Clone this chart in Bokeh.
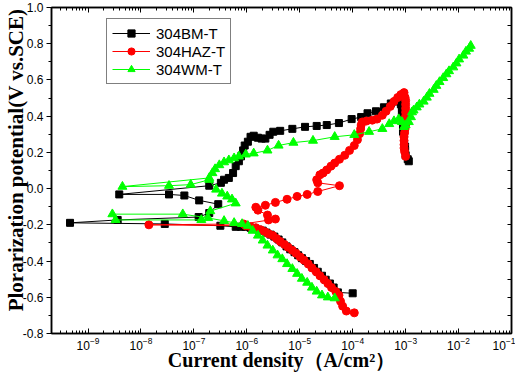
import numpy as np
from bokeh.plotting import figure
from bokeh.models import (Range1d, LinearAxis, LogAxis, FixedTicker, LogTicker,
                          PrintfTickFormatter, Legend, LegendItem)
from bokeh.embed import file_html
from bokeh.resources import INLINE

# ---- data (log10 of current density in A/cm^2, potential in V vs SCE) ----
series_names = ["304BM-T", "304HAZ-T", "304WM-T"]

bm_logi = [-4.00, -4.28, -4.36, -4.43, -4.51, -4.58, -4.66, -4.73, -4.81, -4.88,
           -4.96, -5.03, -5.10, -5.18, -5.25, -5.33, -5.40, -5.48, -5.55, -5.63,
           -5.70, -5.78, -5.85, -5.93, -6.02, -6.11, -6.21, -6.50, -7.55, -9.34,
           -8.44, -6.91, -6.71, -6.54, -6.90, -7.18, -7.47, -8.41, -6.71, -6.49,
           -6.43, -6.34, -6.26, -6.21, -6.15, -6.11, -6.07, -6.04, -5.98, -5.93,
           -5.87, -5.79, -5.72, -5.65, -5.57, -5.50, -5.37, -5.14, -4.90, -4.68,
           -4.49, -4.26, -4.02, -3.84, -3.72, -3.56, -3.41, -3.28, -3.18, -3.13,
           -3.09, -3.07, -3.07, -3.07, -3.05, -3.05, -3.05, -3.05, -3.03, -3.03,
           -3.03, -3.01, -3.01, -3.00, -2.96, -2.94]
bm_e = [-0.578, -0.573, -0.546, -0.524, -0.503, -0.481, -0.459, -0.438, -0.416, -0.400,
        -0.384, -0.368, -0.351, -0.335, -0.319, -0.297, -0.281, -0.265, -0.254, -0.243,
        -0.232, -0.227, -0.222, -0.216, -0.211, -0.211, -0.211, -0.205, -0.195, -0.189,
        -0.173, -0.157, -0.135, -0.086, -0.065, -0.038, -0.032, -0.032, 0.016, 0.032,
        0.049, 0.059, 0.086, 0.124, 0.151, 0.178, 0.211, 0.238, 0.259, 0.286,
        0.292, 0.281, 0.276, 0.276, 0.297, 0.314, 0.319, 0.330, 0.341, 0.346,
        0.351, 0.362, 0.384, 0.395, 0.416, 0.427, 0.449, 0.470, 0.481, 0.486,
        0.465, 0.443, 0.422, 0.400, 0.378, 0.357, 0.335, 0.314, 0.292, 0.270,
        0.249, 0.232, 0.211, 0.184, 0.162, 0.151]

haz_logi = [-3.97, -4.12, -4.19, -4.23, -4.26, -4.32, -4.40, -4.47, -4.54, -4.62,
            -4.69, -4.77, -4.84, -4.92, -4.99, -5.07, -5.14, -5.22, -5.29, -5.37,
            -5.44, -5.51, -5.59, -5.66, -5.74, -5.83, -5.93, -6.02, -7.85, -6.06,
            -5.46, -5.59, -5.61, -5.79, -5.83, -5.65, -5.46, -5.24, -5.05, -4.86,
            -4.66, -4.25, -4.66, -4.68, -4.62, -4.56, -4.49, -4.41, -4.34, -4.25,
            -4.15, -4.06, -3.97, -3.91, -3.87, -3.85, -3.84, -3.82, -3.74, -3.63,
            -3.54, -3.44, -3.37, -3.29, -3.22, -3.15, -3.09, -3.03, -3.01, -3.00,
            -3.00, -3.00, -3.00, -3.00, -3.00, -3.00, -3.01, -3.02, -3.03, -3.03,
            -3.03, -3.03, -3.02, -3.00]
haz_e = [-0.686, -0.676, -0.649, -0.622, -0.589, -0.568, -0.546, -0.524, -0.503, -0.481,
         -0.459, -0.438, -0.416, -0.395, -0.378, -0.357, -0.341, -0.324, -0.308, -0.292,
         -0.276, -0.259, -0.249, -0.238, -0.227, -0.216, -0.211, -0.205, -0.200, -0.195,
         -0.168, -0.173, -0.146, -0.119, -0.103, -0.092, -0.076, -0.059, -0.043, -0.032,
         -0.016, 0.016, 0.032, 0.049, 0.076, 0.086, 0.103, 0.124, 0.141, 0.162,
         0.184, 0.211, 0.238, 0.270, 0.303, 0.330, 0.351, 0.368, 0.373, 0.378,
         0.384, 0.405, 0.427, 0.454, 0.481, 0.503, 0.519, 0.530, 0.503, 0.486,
         0.465, 0.443, 0.422, 0.400, 0.373, 0.351, 0.330, 0.308, 0.286, 0.265,
         0.243, 0.224, 0.205, 0.178]

wm_logi = [-4.34, -4.47, -4.58, -4.68, -4.77, -4.86, -4.96, -5.05, -5.14, -5.24,
           -5.33, -5.42, -5.51, -5.61, -5.70, -5.79, -5.89, -5.98, -6.09, -6.24,
           -6.43, -6.73, -7.21, -8.54, -8.48, -6.86, -6.69, -6.21, -6.28, -6.37,
           -6.47, -6.58, -6.71, -7.06, -7.47, -8.35, -6.71, -6.65, -6.60, -6.52,
           -6.43, -6.34, -6.24, -6.15, -6.02, -5.87, -5.61, -5.40, -5.12, -4.75,
           -4.34, -3.97, -3.69, -3.44, -3.31, -3.22, -3.13, -3.07, -3.03, -3.00,
           -2.94, -2.90, -2.88, -2.85, -2.79, -2.74, -2.66, -2.60, -2.55, -2.47,
           -2.42, -2.36, -2.29, -2.23, -2.18, -2.10, -2.04, -1.99, -1.91, -1.86,
           -1.80, -1.77]
wm_e = [-0.605, -0.600, -0.589, -0.568, -0.546, -0.519, -0.497, -0.470, -0.443, -0.416,
        -0.389, -0.368, -0.341, -0.314, -0.286, -0.259, -0.232, -0.205, -0.195, -0.189,
        -0.178, -0.162, -0.141, -0.141, -0.173, -0.173, -0.124, -0.081, -0.059, -0.043,
        -0.027, -0.005, 0.049, 0.022, 0.016, 0.011, 0.059, 0.086, 0.108, 0.130,
        0.146, 0.157, 0.168, 0.178, 0.189, 0.195, 0.211, 0.238, 0.254, 0.265,
        0.286, 0.297, 0.314, 0.330, 0.357, 0.373, 0.384, 0.368, 0.341, 0.351,
        0.368, 0.395, 0.422, 0.432, 0.449, 0.465, 0.481, 0.503, 0.524, 0.546,
        0.568, 0.589, 0.611, 0.632, 0.649, 0.670, 0.692, 0.714, 0.735, 0.757,
        0.773, 0.789]

y_major = [-0.8, -0.6, -0.4, -0.2, 0.0, 0.2, 0.4, 0.6, 0.8, 1.0]
y_minor = [-0.7, -0.5, -0.3, -0.1, 0.1, 0.3, 0.5, 0.7, 0.9]

x_title = "Current density\uff08A/cm\u00b2\uff09"
y_title = "Plorarization potential(V vs.SCE)"

# ---- figure ----
W, H = 515, 373
p = figure(width=W, height=H, x_axis_type="log",
           x_range=Range1d(10 ** -9.69, 10 ** -1), y_range=Range1d(-0.8, 1.0),
           output_backend="svg", toolbar_location=None,
           min_border_left=45, min_border_right=4, min_border_top=7, min_border_bottom=39)
p.grid.visible = False
p.outline_line_color = "black"
p.outline_line_width = 1.5
p.background_fill_color = "white"
p.border_fill_color = "white"

TICK_FONT = "Liberation Sans"
LABEL_FONT = "Liberation Serif"

# bottom axis
xa = p.xaxis[0]
xa.ticker = LogTicker(num_minor_ticks=10)
xa.axis_label = x_title
xa.axis_label_text_font = LABEL_FONT
xa.axis_label_text_font_style = "bold"
xa.axis_label_text_font_size = "20px"
xa.axis_label_text_color = "black"
xa.axis_label_standoff = -4
xa.major_label_text_font = TICK_FONT
xa.major_label_text_font_size = "12px"
xa.major_label_text_color = "black"
xa.major_label_standoff = 3
xa.major_tick_in = 5
xa.major_tick_out = 0
xa.minor_tick_in = 3
xa.minor_tick_out = 0
xa.axis_line_width = 1.5

# left axis
ya = p.yaxis[0]
ya.ticker = FixedTicker(ticks=y_major, minor_ticks=y_minor)
ya.formatter = PrintfTickFormatter(format="%.1f")
ya.axis_label = "\u00a0\u00a0\u00a0\u00a0" + y_title
ya.axis_label_text_font = LABEL_FONT
ya.axis_label_text_font_style = "bold"
ya.axis_label_text_font_size = "21px"
ya.axis_label_text_color = "black"
ya.axis_label_standoff = -8
ya.major_label_text_font = TICK_FONT
ya.major_label_text_font_size = "12px"
ya.major_label_text_color = "black"
ya.major_label_standoff = 3
ya.major_tick_in = 0
ya.major_tick_out = 5
ya.minor_tick_in = 0
ya.minor_tick_out = 3
ya.axis_line_width = 1.5

# top axis (ticks only, labels invisible)
top = LogAxis(ticker=LogTicker(num_minor_ticks=10), major_label_text_font_size="1px",
              major_label_text_alpha=0, major_label_standoff=0,
              major_tick_in=5, major_tick_out=0,
              minor_tick_in=3, minor_tick_out=0, axis_line_width=1.5)
p.add_layout(top, "above")

# right axis (ticks only, labels invisible)
right = LinearAxis(ticker=FixedTicker(ticks=y_major, minor_ticks=y_minor),
                   major_label_text_font_size="1px", major_label_text_alpha=0,
                   major_label_standoff=0,
                   major_tick_in=4, major_tick_out=0, minor_tick_in=4, minor_tick_out=0,
                   axis_line_width=1.5)
p.add_layout(right, "right")


def draw(logi, e, color, marker, size):
    x = [10 ** v for v in logi]
    r1 = p.line(x, e, line_color=color, line_width=1)
    r2 = p.scatter(x, e, marker=marker, size=size, fill_color=color, line_color=color)
    return [r1, r2]


items = []
items.append(LegendItem(label=series_names[0], renderers=draw(bm_logi, bm_e, "#000000", "square", 7)))
items.append(LegendItem(label=series_names[1], renderers=draw(haz_logi, haz_e, "#FF0000", "circle", 8)))
items.append(LegendItem(label=series_names[2], renderers=draw(wm_logi, wm_e, "#00FF00", "triangle", 9)))

legend = Legend(items=items, location=(55, 249), orientation="vertical",
                label_text_font=TICK_FONT, label_text_font_size="15px",
                label_text_color="black", glyph_width=38, glyph_height=18,
                label_height=18, label_standoff=6, spacing=0, padding=5, margin=0,
                border_line_color="black", border_line_width=1,
                background_fill_color="white", background_fill_alpha=1.0)
p.add_layout(legend)

open("out.html", "w").write(file_html(p, INLINE))
